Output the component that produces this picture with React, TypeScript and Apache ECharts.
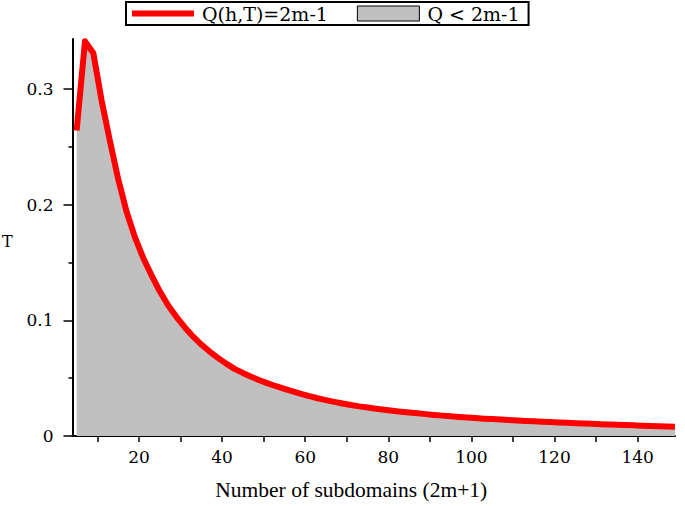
import React, { useEffect, useRef } from "react";
import * as echarts from "echarts";

const subdomains = [
  5, 7, 9, 11, 13, 15, 17, 19, 21, 23, 25, 27, 29, 31, 33, 35, 37, 39, 41, 43,
  45, 47, 49, 51, 53, 55, 57, 59, 61, 63, 65, 67, 69, 71, 73, 75, 77, 79, 81, 83,
  85, 87, 89, 91, 93, 95, 97, 99, 101, 103, 105, 107, 109, 111, 113, 115, 117,
  119, 121, 123, 125, 127, 129, 131, 133, 135, 137, 139, 141, 143, 145, 147, 149,
];

const tValues = [
  0.264, 0.341, 0.331, 0.29, 0.255, 0.222, 0.194, 0.172, 0.154, 0.139, 0.125,
  0.113, 0.103, 0.094, 0.086, 0.079, 0.073, 0.0675, 0.0625, 0.058, 0.0545,
  0.0512, 0.0482, 0.0455, 0.043, 0.0408, 0.0385, 0.0364, 0.0344, 0.0326, 0.031,
  0.0295, 0.0281, 0.0268, 0.0256, 0.0246, 0.0236, 0.0227, 0.0218, 0.021, 0.0203,
  0.0196, 0.0189, 0.0182, 0.0176, 0.017, 0.0165, 0.016, 0.0155, 0.015, 0.0146,
  0.0142, 0.0138, 0.0134, 0.013, 0.0127, 0.0123, 0.012, 0.0117, 0.0114, 0.0111,
  0.0108, 0.0105, 0.0102, 0.0099, 0.0097, 0.0094, 0.0092, 0.0089, 0.0087,
  0.0085, 0.0082, 0.008,
];

const xLabelTicks = [20, 40, 60, 80, 100, 120, 140];
const xAllTicks = [10, 20, 30, 40, 50, 60, 70, 80, 90, 100, 110, 120, 130, 140];
const yMajorTicks = [0, 0.1, 0.2, 0.3];
const yMinorTicks = [0.05, 0.15, 0.25];

const lineName = "Q(h,T)=2m-1";
const areaName = "Q < 2m-1";

export default function App() {
  const ref = useRef<HTMLDivElement>(null);

  useEffect(() => {
    if (!ref.current) return;
    const chart = echarts.init(ref.current, null, { renderer: "svg" });
    const data = subdomains.map((n, i) => [n, tValues[i]]);
    const serif = "'DejaVu Serif', 'Liberation Serif', serif";
    const times = "'Liberation Serif', serif";
    const yMax = 0.343;

    chart.setOption({
      animation: false,
      backgroundColor: "#ffffff",
      grid: { left: 72.5, right: 10, top: 39, bottom: 65, containLabel: false },
      legend: {
        left: 126,
        top: 2,
        orient: "horizontal",
        borderColor: "#000",
        borderWidth: 2,
        borderRadius: 0,
        padding: [2, 9, 2, 6],
        itemGap: 29,
        itemWidth: 62,
        itemHeight: 15,
        symbolKeepAspect: true,
        textStyle: {
          fontFamily: serif,
          fontSize: 19,
          color: "#000",
          padding: [0, 0, 0, 3],
        },
        data: [
          {
            name: lineName,
            icon: "path://M0,0H62V6H0Z",
            itemStyle: { color: "#ff0000" },
          },
          {
            name: areaName,
            icon: "rect",
            itemStyle: { color: "#c0c0c0", borderColor: "#000", borderWidth: 1 },
          },
        ],
      },
      xAxis: {
        type: "value",
        min: 4,
        max: 149,
        name: "Number of subdomains (2m+1)",
        nameLocation: "middle",
        nameGap: 43,
        nameTextStyle: {
          fontFamily: times,
          fontSize: 21.5,
          color: "#000",
          padding: [0, 45, 0, 0],
        },
        splitLine: { show: false },
        axisLine: { show: true, onZero: false, lineStyle: { color: "#000", width: 2 } },
        axisTick: {
          show: true,
          inside: false,
          length: 6,
          customValues: xAllTicks,
          lineStyle: { color: "#000", width: 1.5 },
        },
        axisLabel: {
          customValues: xLabelTicks,
          margin: 12,
          fontFamily: serif,
          fontSize: 17,
          color: "#000",
        },
      },
      yAxis: [
        {
          type: "value",
          min: 0,
          max: yMax,
          splitLine: { show: false },
          axisLine: { show: true, onZero: false, lineStyle: { color: "#000", width: 2 } },
          axisTick: {
            show: true,
            inside: false,
            length: 9,
            customValues: yMajorTicks,
            lineStyle: { color: "#000", width: 1.5 },
          },
          axisLabel: {
            customValues: yMajorTicks,
            margin: 19,
            fontFamily: serif,
            fontSize: 17,
            color: "#000",
            formatter: (v: number) => (v === 0 ? "0" : v.toFixed(1)),
          },
        },
        {
          type: "value",
          position: "left",
          min: 0,
          max: yMax,
          splitLine: { show: false },
          axisLine: { show: false },
          axisTick: {
            show: true,
            inside: false,
            length: 4,
            customValues: yMinorTicks,
            lineStyle: { color: "#000", width: 1.5 },
          },
          axisLabel: { show: false },
        },
      ],
      graphic: [
        {
          type: "text",
          x: 2,
          y: 233,
          style: { text: "T", font: "16px 'DejaVu Serif', serif", fill: "#000" },
        },
      ],
      series: [
        {
          name: areaName,
          type: "line",
          data,
          symbol: "none",
          lineStyle: { width: 0, color: "#c0c0c0" },
          itemStyle: { color: "#c0c0c0" },
          areaStyle: { color: "#c0c0c0", opacity: 1 },
          z: 2,
        },
        {
          name: lineName,
          type: "line",
          data,
          symbol: "none",
          lineStyle: { width: 6, color: "#ff0000", cap: "butt", join: "round" },
          itemStyle: { color: "#ff0000" },
          z: 3,
        },
      ],
    });

    return () => chart.dispose();
  }, []);

  return (
    <div
      ref={ref}
      style={{ position: "absolute", left: 0, top: 0, width: 685, height: 506 }}
    />
  );
}
